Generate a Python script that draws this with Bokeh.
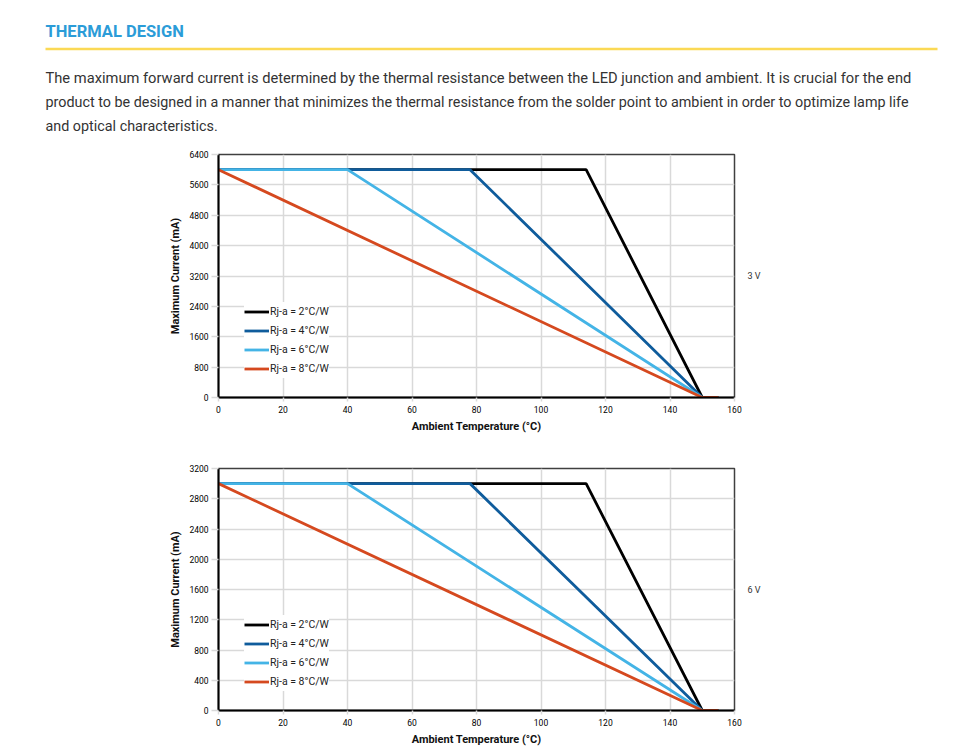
from bokeh.plotting import figure
from bokeh.layouts import column
from bokeh.models import Range1d, Legend, LegendItem, FixedTicker, LinearAxis
from bokeh.core.properties import value
from bokeh.embed import file_html
from bokeh.resources import INLINE

# ---------------- data ----------------
SERIES_LABELS = ["Rj-a = 2°C/W", "Rj-a = 4°C/W", "Rj-a = 6°C/W", "Rj-a = 8°C/W"]
SERIES_COLORS = ["#000000", "#0f5c9c", "#44b4e6", "#d5491f"]

T_RJA2 = [0, 114, 150, 155]
T_RJA4 = [0, 78, 150, 155]
T_RJA6 = [0, 40, 150, 155]
T_RJA8 = [0, 150, 155]

I3V_RJA2 = [6000, 6000, 0, 0]
I3V_RJA4 = [6000, 6000, 0, 0]
I3V_RJA6 = [6000, 6000, 0, 0]
I3V_RJA8 = [6000, 0, 0]

I6V_RJA2 = [3000, 3000, 0, 0]
I6V_RJA4 = [3000, 3000, 0, 0]
I6V_RJA6 = [3000, 3000, 0, 0]
I6V_RJA8 = [3000, 0, 0]

X_TICKS = [0, 20, 40, 60, 80, 100, 120, 140, 160]
Y_TICKS_3V = [0, 800, 1600, 2400, 3200, 4000, 4800, 5600, 6400]
Y_TICKS_6V = [0, 400, 800, 1200, 1600, 2000, 2400, 2800, 3200]

TITLE = "THERMAL DESIGN"
PARAGRAPH = [
    "The maximum forward current is determined by the thermal resistance between the LED junction and ambient. It is crucial for the end",
    "product to be designed in a manner that minimizes the thermal resistance from the solder point to ambient in order to optimize lamp life",
    "and optical characteristics.",
]

FONT = "Roboto"
W = 960
HDR_H = 143

# ---------------- header ----------------
hdr = figure(width=W, height=HDR_H, x_range=Range1d(0, W), y_range=Range1d(HDR_H, 0),
             toolbar_location=None, output_backend="svg", min_border=0,
             min_border_left=0, min_border_right=0, min_border_top=0, min_border_bottom=0)
hdr.axis.visible = False
hdr.grid.visible = False
hdr.outline_line_color = None
hdr.text(x=[45], y=[31], text=[TITLE], text_font=value(FONT), text_font_size="16.5px",
         text_font_style="bold", text_color="#2b9cd8", text_baseline="middle", text_align="left")
hdr.line(x=[45, 937], y=[48.5, 48.5], line_color="#fbd955", line_width=2.5)
hdr.text(x=[45], y=[77], text=PARAGRAPH[:1], text_font=value(FONT),
         text_font_size="14.7px", text_color="#333333", text_baseline="middle", text_align="left")
hdr.text(x=[45, 45], y=[101.5, 126], text=PARAGRAPH[1:], text_font=value(FONT),
         text_font_size="14.35px", text_color="#333333", text_baseline="middle", text_align="left")


def make_chart(ys, yticks, ymax, height, top, bottom, vlabel):
    p = figure(width=W, height=height, x_range=Range1d(0, 160), y_range=Range1d(0, ymax),
               toolbar_location=None, output_backend="svg",
               min_border_left=218, min_border_right=226,
               min_border_top=top, min_border_bottom=bottom)
    p.outline_line_color = "#404040"
    p.outline_line_width = 1.5
    p.xaxis.ticker = FixedTicker(ticks=X_TICKS)
    p.yaxis.ticker = FixedTicker(ticks=yticks)
    p.grid.grid_line_color = "#d9d9d9"
    p.grid.grid_line_width = 1.5
    for ax in (p.xaxis[0], p.yaxis[0]):
        ax.axis_line_color = "#000000"
        ax.axis_line_width = 2
        ax.minor_tick_line_color = None
        ax.major_tick_in = 0
        ax.major_tick_line_color = "#d9d9d9"
        ax.major_tick_line_width = 1.5
        ax.major_label_text_font = FONT
        ax.major_label_text_font_size = "8.5px"
        ax.major_label_text_color = "#000000"
        ax.axis_label_text_font = FONT
        ax.axis_label_text_font_size = "11px"
        ax.axis_label_text_font_style = "bold"
        ax.axis_label_text_color = "#111111"
    p.xaxis.major_tick_out = 4
    p.xaxis.major_label_standoff = 4
    p.xaxis.axis_label = "Ambient Temperature (°C)"
    p.xaxis.axis_label_standoff = 4
    p.yaxis.major_tick_out = 7
    p.yaxis.major_label_standoff = 3
    p.yaxis.axis_label = "Maximum Current (mA)"
    p.yaxis.axis_label_standoff = 4

    # right-hand voltage tag, drawn as a single-tick axis label
    ax_r = LinearAxis(ticker=FixedTicker(ticks=[ymax / 2]),
                      major_label_overrides={ymax / 2: vlabel},
                      axis_line_color=None, major_tick_line_color=None,
                      major_tick_out=0, major_tick_in=0,
                      minor_tick_line_color=None, major_label_standoff=13,
                      major_label_text_font=FONT, major_label_text_font_size="9px",
                      major_label_text_color="#333333")
    p.add_layout(ax_r, "right")

    xs = [T_RJA2, T_RJA4, T_RJA6, T_RJA8]
    items = []
    for x, y, c, lab in zip(xs, ys, SERIES_COLORS, SERIES_LABELS):
        r = p.line(x=x, y=y, line_color=c, line_width=2.8)
        items.append(LegendItem(label=lab, renderers=[r]))
    leg = Legend(items=items, location=(26, 19), background_fill_color="white",
                 background_fill_alpha=1, border_line_color=None, padding=8,
                 spacing=0, glyph_width=25, glyph_height=19, label_height=19,
                 label_standoff=1, label_text_font=FONT, label_text_font_size="10.5px",
                 label_text_color="#222222", margin=0)
    p.add_layout(leg)
    return p


c1 = make_chart([I3V_RJA2, I3V_RJA4, I3V_RJA6, I3V_RJA8], Y_TICKS_3V, 6400, 312, 11, 58, "3 V")
c2 = make_chart([I6V_RJA2, I6V_RJA4, I6V_RJA6, I6V_RJA8], Y_TICKS_6V, 3200, 301, 13, 46, "6 V")

charts = column(c1, c2, spacing=0)
open("out.html", "w").write(file_html([hdr, charts], INLINE))
